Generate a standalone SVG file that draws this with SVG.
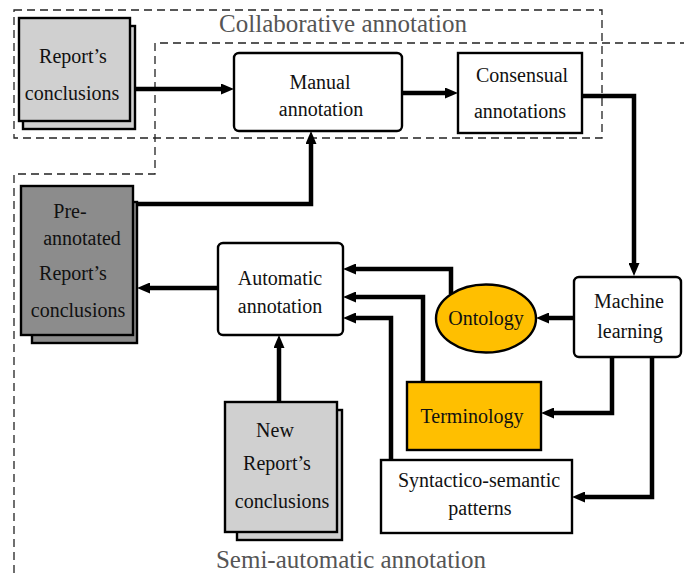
<svg xmlns="http://www.w3.org/2000/svg" width="684" height="573" viewBox="0 0 684 573">
<style>
.t{font-family:"Liberation Serif","Times New Roman",serif;font-size:20px;fill:#111;text-anchor:middle}
.g{font-family:"Liberation Serif","Times New Roman",serif;font-size:25px;fill:#555;text-anchor:middle}
.box{fill:#fff;stroke:#000;stroke-width:2.4}
.lt{fill:#d0d0d0;stroke:#000;stroke-width:2.4}
.dk{fill:#8c8c8c;stroke:#000;stroke-width:2.4}
.gold{fill:#ffbf00;stroke:#000;stroke-width:2.4}
.dash{fill:none;stroke:#222;stroke-width:1.3;stroke-dasharray:8 5}
.c{fill:none;stroke:#000;stroke-width:4.5}
</style>
<defs>
<marker id="ah" viewBox="0 0 13 11" refX="6" refY="5.5" markerWidth="13" markerHeight="11" markerUnits="userSpaceOnUse" orient="auto">
<path d="M0,0 L13,5.5 L0,11 Z" fill="#000"/>
</marker>
</defs>
<g id="groups">
<rect class="dash" x="14" y="10" width="588" height="128"/>
<text class="g" x="343" y="32">Collaborative annotation</text>
<path class="dash" d="M14,573 V174 H155 V43 H684"/>
<text class="g" x="351" y="568">Semi-automatic annotation</text>
</g>
<g id="connectors">
<path class="c" marker-end="url(#ah)" d="M135,89 H227"/>
<path class="c" marker-end="url(#ah)" d="M402,93 H451"/>
<path class="c" marker-end="url(#ah)" d="M582,96 H634 V269"/>
<path class="c" marker-end="url(#ah)" d="M574,318 H543"/>
<path class="c" marker-end="url(#ah)" d="M451,294 V269 H350"/>
<path class="c" marker-end="url(#ah)" d="M423,382 V297 H350"/>
<path class="c" marker-end="url(#ah)" d="M391,460 V318 H350"/>
<path class="c" marker-end="url(#ah)" d="M612,357 V413 H548"/>
<path class="c" marker-end="url(#ah)" d="M652,357 V497 H579"/>
<path class="c" marker-end="url(#ah)" d="M279,402 V342"/>
<path class="c" marker-end="url(#ah)" d="M218,288 H144"/>
<path class="c" marker-end="url(#ah)" d="M137,204 H311 V138"/>
</g>
<g id="reports">
<rect class="lt" x="23" y="26" width="112" height="103"/>
<rect class="lt" x="19" y="18" width="111" height="103"/>
<text class="t" x="73" y="63">Report’s</text>
<text class="t" x="72" y="100">conclusions</text>
</g>
<g id="manual">
<rect class="box" x="234" y="53" width="168" height="78" rx="5"/>
<text class="t" x="320" y="89">Manual</text>
<text class="t" x="321" y="116">annotation</text>
</g>
<g id="consensual">
<rect class="box" x="458" y="53" width="124" height="80"/>
<text class="t" x="522" y="82">Consensual</text>
<text class="t" x="520" y="118">annotations</text>
</g>
<g id="machine">
<rect class="box" x="574" y="277" width="107" height="80" rx="5"/>
<text class="t" x="629" y="308">Machine</text>
<text class="t" x="630" y="338">learning</text>
</g>
<g id="ontology">
<ellipse class="gold" cx="486" cy="318.5" rx="50" ry="34"/>
<text class="t" x="486" y="325">Ontology</text>
</g>
<g id="terminology">
<rect class="gold" x="407" y="382" width="134" height="68"/>
<text class="t" x="472" y="423">Terminology</text>
</g>
<g id="syntactico">
<rect class="box" x="381" y="460" width="191" height="73"/>
<text class="t" x="479" y="487">Syntactico-semantic</text>
<text class="t" x="480" y="515">patterns</text>
</g>
<g id="automatic">
<rect class="box" x="218" y="243" width="125" height="92" rx="5"/>
<text class="t" x="280" y="285">Automatic</text>
<text class="t" x="280" y="313">annotation</text>
</g>
<g id="new-reports">
<rect class="lt" x="237" y="410" width="105" height="130"/>
<rect class="lt" x="225" y="402" width="112" height="130"/>
<text class="t" x="275" y="437">New</text>
<text class="t" x="277" y="470">Report’s</text>
<text class="t" x="282" y="508">conclusions</text>
</g>
<g id="pre-annotated">
<rect class="dk" x="32" y="202" width="105" height="141"/>
<rect class="dk" x="21" y="186" width="112" height="149"/>
<text class="t" x="70" y="218">Pre-</text>
<text class="t" x="82" y="245">annotated</text>
<text class="t" x="73" y="280">Report’s</text>
<text class="t" x="78" y="317">conclusions</text>
</g>
</svg>
